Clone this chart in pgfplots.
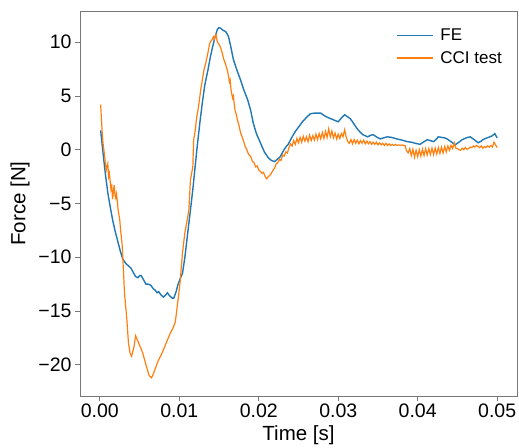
\documentclass[border=0pt]{standalone}
\usepackage{fontspec}
\setmainfont{Liberation Sans}
\usepackage{pgfplots}
\pgfplotsset{compat=1.18}
\definecolor{tabblue}{RGB}{31,119,180}
\definecolor{taborange}{RGB}{255,127,14}
\definecolor{spine}{RGB}{120,120,120}

\begin{document}
\begin{tikzpicture}
\useasboundingbox (-80pt,-51pt) rectangle (439pt,396pt);
\begin{axis}[
  at={(0,0)}, anchor=south west,
  scale only axis, width=437pt, height=385pt,
  xmin=-0.0025, xmax=0.0525, ymin=-22.9, ymax=12.9,
  xtick={0,0.01,0.02,0.03,0.04,0.05},
  xticklabels={0.00,0.01,0.02,0.03,0.04,0.05},
  ytick={-20,-15,-10,-5,0,5,10},
  yticklabels={−20,−15,−10,−5,0,5,10},
  scaled x ticks=false,
  tick align=outside, xtick pos=bottom, ytick pos=left,
  major tick length=5pt,
  axis line style={spine, line width=0.9pt},
  tick style={spine, line width=0.9pt},
  tick label style={font=\fontsize{19.5}{22}\selectfont},
  xticklabel style={yshift=1pt},
  label style={font=\fontsize{20.5}{23}\selectfont},
  xlabel={Time [s]}, ylabel={Force [N]},
  xlabel style={at={(axis description cs:0.5,-0.101)}, anchor=center},
  ylabel style={at={(axis description cs:-0.137,0.5)}, anchor=center},
  legend style={draw=none, fill=none, at={(1,1)}, anchor=north east, xshift=-10pt, yshift=-14pt,
    font=\fontsize{17}{20}\selectfont, row sep=5pt, column sep=5pt},
  legend cell align=left,
  legend image code/.code={\draw[#1, line width=1.4pt] (0pt,0pt) -- (36pt,0pt);},
]
\addplot[tabblue, line width=1.4pt] coordinates {
(0.0001,1.8) (0.0004,-0.3) (0.0007,-2.3) (0.0010,-4.0) (0.0013,-5.3) (0.0016,-6.5)
(0.0019,-7.5) (0.0023,-8.65) (0.0026,-9.5) (0.0029,-10.2) (0.0033,-10.6) (0.0036,-10.8)
(0.0039,-11.0) (0.0042,-11.4) (0.0045,-11.8) (0.0048,-11.9) (0.0050,-11.7) (0.0052,-11.7)
(0.0055,-12.1) (0.0058,-12.5) (0.0061,-12.5) (0.0064,-12.6) (0.0067,-12.9) (0.0070,-13.1)
(0.0072,-13.3) (0.0074,-13.2) (0.0077,-13.5) (0.0080,-13.7) (0.0083,-13.5) (0.0085,-13.3)
(0.0088,-13.6) (0.0091,-13.8) (0.0093,-13.8) (0.0096,-13.2) (0.0098,-12.6) (0.0101,-12.0)
(0.0104,-11.5) (0.0107,-10.0) (0.0110,-8.1) (0.0114,-5.6) (0.0117,-3.7) (0.0120,-1.5)
(0.0123,0.65) (0.0126,2.6) (0.0129,4.4) (0.0132,6.0) (0.0136,7.4) (0.0139,8.6)
(0.0142,9.6) (0.0145,10.5) (0.0148,11.2) (0.0150,11.35) (0.0152,11.3) (0.0155,11.1)
(0.0158,11.0) (0.0160,10.8) (0.0162,10.5) (0.0165,9.5) (0.0168,8.4) (0.0172,7.5)
(0.0177,6.5) (0.0181,5.6) (0.0186,4.65) (0.0190,3.6) (0.0193,2.5) (0.0197,1.5)
(0.0202,0.65) (0.0207,-0.2) (0.0212,-0.75) (0.0216,-1.0) (0.0220,-1.1) (0.0224,-0.85)
(0.0227,-0.65) (0.0231,-0.1) (0.0234,0.25) (0.0237,0.5) (0.0242,1.2) (0.0246,1.7)
(0.0249,2.0) (0.0252,2.3) (0.0255,2.6) (0.0260,3.0) (0.0265,3.35) (0.0270,3.4)
(0.0275,3.4) (0.0278,3.4) (0.0281,3.25) (0.0284,3.1) (0.0287,3.0) (0.0290,2.9)
(0.0295,2.75) (0.0300,2.6) (0.0304,2.95) (0.0308,3.25) (0.0312,3.05) (0.0315,2.9)
(0.0318,2.6) (0.0322,2.15) (0.0325,1.85) (0.0328,1.6) (0.0331,1.4) (0.0334,1.3)
(0.0337,1.2) (0.0341,1.35) (0.0344,1.4) (0.0348,1.2) (0.0353,1.0) (0.0357,1.1)
(0.0362,1.2) (0.0367,1.15) (0.0374,1.0) (0.0380,0.9) (0.0387,0.75) (0.0392,0.7)
(0.0397,0.6) (0.0400,0.55) (0.0403,0.5) (0.0407,0.7) (0.0412,0.93) (0.0416,0.85)
(0.0420,0.75) (0.0423,0.95) (0.0426,1.2) (0.0430,1.15) (0.0434,1.1) (0.0437,1.0)
(0.0442,0.75) (0.0447,0.45) (0.0451,0.65) (0.0456,0.93) (0.0461,1.1) (0.0466,1.2)
(0.0471,0.95) (0.0476,0.65) (0.0480,0.8) (0.0482,0.93) (0.0487,1.1) (0.0491,1.2)
(0.0494,1.3) (0.0497,1.5) (0.0500,1.1)
};
\addlegendentry{FE}
\addplot[taborange, line width=1.2pt] coordinates {
(0.0001,4.2) (0.0003,1.5) (0.0004,0.6) (0.0006,-0.6) (0.0008,-1.9) (0.0010,-1.3)
(0.0011,-2.5) (0.0012,-2.2) (0.0014,-3.7) (0.0015,-3.4) (0.0016,-4.6) (0.0018,-3.3)
(0.0019,-4.2) (0.0020,-4.5) (0.0021,-4.1) (0.0023,-5.6) (0.0025,-6.5) (0.0026,-7.4)
(0.0028,-8.8) (0.0029,-10.2) (0.0031,-13.3) (0.0034,-15.8) (0.0036,-18.0) (0.0038,-18.9)
(0.0040,-19.2) (0.0043,-18.3) (0.0045,-17.3) (0.0049,-18.0) (0.0054,-18.9) (0.0058,-20.0)
(0.0062,-21.0) (0.0065,-21.2) (0.0067,-20.9) (0.0069,-20.5) (0.0073,-19.7) (0.0075,-19.4)
(0.0077,-19.1) (0.0080,-18.6) (0.0085,-17.7) (0.0089,-17.0) (0.0092,-16.6) (0.0095,-16.0)
(0.0098,-14.2) (0.0101,-12.3) (0.0104,-9.6) (0.0107,-7.7) (0.0110,-6.5) (0.0112,-5.6)
(0.0114,-2.8) (0.0117,-1.6) (0.0118,0.9) (0.0120,1.8) (0.0122,3.1) (0.0124,3.9)
(0.0127,5.6) (0.0129,6.5) (0.0131,7.4) (0.0134,8.3) (0.0136,9.0) (0.0138,9.8)
(0.0139,10.0) (0.0141,10.2) (0.0143,10.5) (0.0144,10.3) (0.0146,10.7) (0.0148,10.0)
(0.0150,9.8) (0.0152,9.5) (0.0154,9.0) (0.0156,8.4) (0.0158,8.0) (0.0160,7.5)
(0.0161,7.2) (0.0162,6.8) (0.0163,6.3) (0.0164,6.5) (0.0165,5.6) (0.0167,4.8)
(0.0168,5.0) (0.0170,3.7) (0.0172,3.2) (0.0173,2.8) (0.0175,2.3) (0.0177,1.6)
(0.0180,1.0) (0.0183,0.3) (0.0185,0.0) (0.0187,-0.4) (0.0190,-0.65) (0.0192,-1.1)
(0.0194,-1.2) (0.0196,-1.6) (0.0198,-1.5) (0.0200,-1.9) (0.0202,-2.0) (0.0204,-2.2)
(0.0206,-2.1) (0.0208,-2.5) (0.0210,-2.7) (0.0212,-2.5) (0.0215,-2.3) (0.0218,-1.9)
(0.0220,-1.7) (0.0222,-1.3) (0.0224,-1.2) (0.0226,-0.9) (0.0228,-1.0) (0.0230,-0.5)
(0.0232,-0.6) (0.0234,-0.2) (0.0236,-0.3) (0.0238,0.2)
(0.0240,0.55) (0.0242,0.35) (0.0244,0.85) (0.0246,0.50) (0.0248,1.05) (0.0250,0.65)
(0.0252,1.15) (0.0254,0.70) (0.0256,1.25) (0.0258,0.80) (0.0260,1.20) (0.0262,0.75)
(0.0264,1.35) (0.0266,0.85) (0.0268,1.30) (0.0270,0.90) (0.0272,1.45) (0.0274,0.95)
(0.0276,1.50) (0.0278,1.00) (0.0280,1.60) (0.0282,1.05) (0.0284,1.70) (0.0286,1.15)
(0.0288,1.95) (0.0290,1.20) (0.0292,1.75) (0.0294,1.10) (0.0296,1.55) (0.0298,1.00)
(0.0300,1.45) (0.0302,1.05) (0.0304,1.50) (0.0306,1.20) (0.0308,1.85) (0.0310,1.20)
(0.0312,0.75) (0.0314,0.60) (0.0316,0.95) (0.0318,0.55) (0.0320,0.95) (0.0322,0.60)
(0.0324,0.90) (0.0326,0.55) (0.0328,0.85) (0.0330,0.60) (0.0332,0.90) (0.0334,0.55)
(0.0336,0.80) (0.0338,0.55) (0.0340,0.75) (0.0342,0.50) (0.0344,0.70) (0.0346,0.50)
(0.0348,0.70) (0.0350,0.45) (0.0352,0.65) (0.0354,0.45) (0.0356,0.60) (0.0358,0.40)
(0.0360,0.60) (0.0362,0.40) (0.0364,0.55) (0.0366,0.40) (0.0368,0.50) (0.0370,0.40)
(0.0372,0.50) (0.0374,0.40) (0.0376,0.45) (0.0378,0.40) (0.0380,0.45) (0.0382,0.40)
(0.0384,0.40) (0.0386,-0.10) (0.0388,-0.30) (0.0390,0.10) (0.0392,-0.55) (0.0394,0.05)
(0.0396,-0.70) (0.0398,-0.05) (0.0400,-0.65) (0.0402,0.00) (0.0404,-0.60) (0.0406,0.05)
(0.0408,-0.55) (0.0410,0.10) (0.0412,-0.50) (0.0414,0.10) (0.0416,-0.45) (0.0418,0.15)
(0.0420,-0.45) (0.0422,0.15) (0.0424,-0.40) (0.0426,0.20) (0.0428,-0.35) (0.0430,0.25)
(0.0432,-0.30) (0.0434,0.30) (0.0436,-0.20) (0.0438,0.35) (0.0440,-0.05) (0.0442,0.40)
(0.0444,0.10) (0.0446,0.65) (0.0448,0.15) (0.0450,0.10) (0.0452,0.00) (0.0454,-0.05)
(0.0456,0.15) (0.0458,0.00) (0.0460,0.20) (0.0462,0.05) (0.0464,0.10) (0.0466,0.25)
(0.0468,0.20) (0.0470,0.35) (0.0472,0.25) (0.0474,0.40) (0.0476,0.30) (0.0478,0.20)
(0.0480,0.35) (0.0482,0.15) (0.0484,0.30) (0.0486,0.20) (0.0488,0.35) (0.0490,0.25)
(0.0492,0.40) (0.0494,0.25) (0.0496,0.70) (0.0498,0.45) (0.0500,0.20)
};
\addlegendentry{CCI test}
\end{axis}
\end{tikzpicture}
\end{document}
